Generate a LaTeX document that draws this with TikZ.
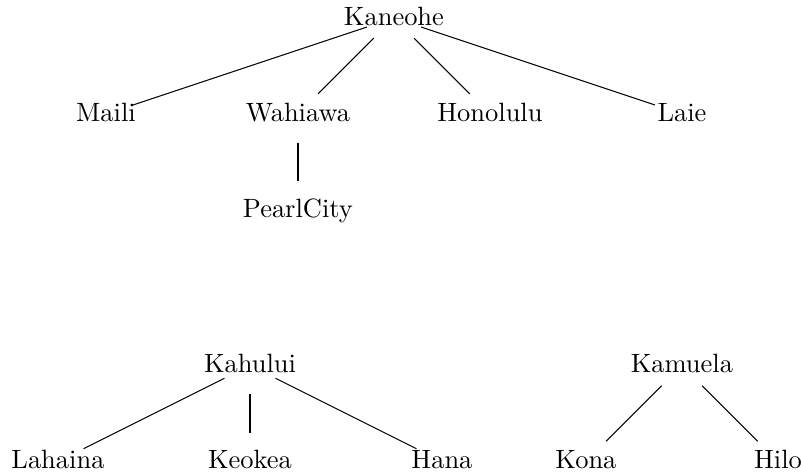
\documentclass[tikz,border=0pt]{standalone}

\tikzset{
    city/.style={inner sep=0pt, text height=1.5ex, text depth=0.25ex},
    branch/.style={shorten <=10.8pt, shorten >=10.8pt}
}

\begin{document}
\begin{tikzpicture}[x=1.275cm, y=-1.275cm]

    \useasboundingbox (-0.104,-0.1875) rectangle (8.24,4.76);

    %% Oahu
    % Root and first level
    \node[city] (kaneohe) at (4,0) {Kaneohe};
    \node[city] (maili) at (1,1) {Maili};
    \node[city] (wahiawa) at (3,1) {Wahiawa};
    \node[city] (honolulu) at (5,1) {Honolulu};
    \node[city] (laie) at (7,1) {Laie};

    % Second level
    \node[city] (pearlcity) at (3,2) {PearlCity};

    %% Maui
    \node[city] (kahului) at (2.5,3.62) {Kahului};
    \node[city] (lahaina) at (0.5,4.62) {Lahaina};
    \node[city] (keokea) at (2.5,4.62) {Keokea};
    \node[city] (hana) at (4.5,4.62) {Hana};

    %% Big Island
    \node[city] (kamuela) at (7,3.62) {Kamuela};
    \node[city] (kona) at (6,4.62) {Kona};
    \node[city] (hilo) at (8,4.62) {Hilo};

    % Branches
    \foreach \a/\b in {kaneohe/maili, kaneohe/wahiawa, kaneohe/honolulu, kaneohe/laie,
                       wahiawa/pearlcity,
                       kahului/lahaina, kahului/keokea, kahului/hana,
                       kamuela/kona, kamuela/hilo}
        \draw[branch] (\a.center) -- (\b.center);

\end{tikzpicture}
\end{document}
